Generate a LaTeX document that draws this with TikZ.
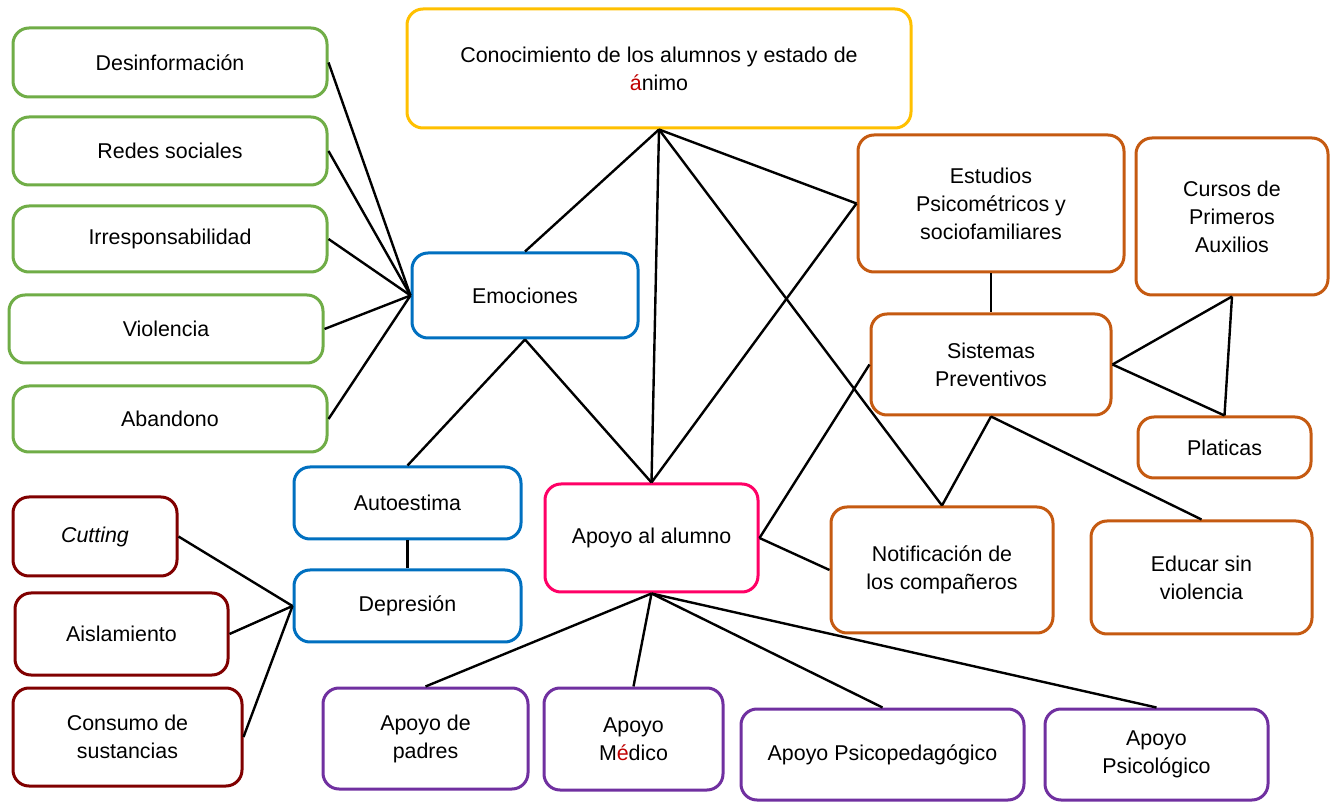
\documentclass[tikz,border=0pt]{standalone}
\usepackage{fontspec}
\setmainfont{Liberation Sans}
\definecolor{cYel}{HTML}{FFC000}
\definecolor{cGrn}{HTML}{70AD47}
\definecolor{cBlu}{HTML}{0070C0}
\definecolor{cDrd}{HTML}{800000}
\definecolor{cPnk}{HTML}{FF0066}
\definecolor{cOrg}{HTML}{C55A11}
\definecolor{cPur}{HTML}{7030A0}
\definecolor{cAcc}{HTML}{C00000}
\tikzset{
  box/.style={draw, line width=1.5pt, rounded corners=8pt, fill=white, align=center,
    font=\fontsize{10.7}{14}\selectfont, inner sep=2pt},
  link/.style={line width=1.2pt, black},
}
\begin{document}
\begin{tikzpicture}[x=0.5pt,y=-0.5pt]
\useasboundingbox (0,0) rectangle (1330,802);
% nodes
\node[box, draw=cYel, minimum width=252pt, minimum height=59.5pt] (con) at (659,68.5) {Conocimiento de los alumnos y estado de\\\textcolor{cAcc}{á}nimo};
\node[box, draw=cGrn, minimum width=157pt, minimum height=34.5pt] (des) at (170,62.5) {Desinformación};
\node[box, draw=cGrn, minimum width=157pt, minimum height=34pt] (red) at (170,151) {Redes sociales};
\node[box, draw=cGrn, minimum width=157pt, minimum height=33pt] (irr) at (170,239) {Irresponsabilidad};
\node[box, draw=cGrn, minimum width=157pt, minimum height=34pt] (vio) at (166,329) {Violencia};
\node[box, draw=cGrn, minimum width=157pt, minimum height=33pt] (aba) at (170,419) {Abandono};
\node[box, draw=cBlu, minimum width=113pt, minimum height=42.5pt] (emo) at (525,295.5) {Emociones};
\node[box, draw=cBlu, minimum width=113.5pt, minimum height=36pt] (aut) at (407.5,503) {Autoestima};
\node[box, draw=cBlu, minimum width=113.5pt, minimum height=36pt] (dep) at (407.5,606) {Depresión};
\node[box, draw=cDrd, minimum width=82pt, minimum height=39.5pt] (cut) at (95,536.5) {\textit{Cutting}};
\node[box, draw=cDrd, minimum width=106.5pt, minimum height=41pt] (ais) at (121.5,634) {Aislamiento};
\node[box, draw=cDrd, minimum width=114.5pt, minimum height=49pt] (cons) at (127.5,737) {Consumo de\\sustancias};
\node[box, draw=cPnk, minimum width=106.5pt, minimum height=54pt] (apo) at (651.5,538) {Apoyo al alumno};
\node[box, draw=cOrg, minimum width=133pt, minimum height=68.5pt] (est) at (991,203.5) {Estudios\\Psicométricos y\\sociofamiliares};
\node[box, draw=cOrg, minimum width=96pt, minimum height=78.5pt] (cur) at (1232,216.5) {Cursos de\\Primeros\\Auxilios};
\node[box, draw=cOrg, minimum width=120pt, minimum height=50.5pt] (sis) at (991,364.5) {Sistemas\\Preventivos};
\node[box, draw=cOrg, minimum width=86.5pt, minimum height=30.5pt] (pla) at (1224.5,447.5) {Platicas};
\node[box, draw=cOrg, minimum width=111pt, minimum height=63pt] (not) at (942,570) {Notificación de\\los compañeros};
\node[box, draw=cOrg, minimum width=110.5pt, minimum height=56.5pt] (edu) at (1201.5,577.5) {Educar sin\\violencia};
\node[box, draw=cPur, minimum width=102.5pt, minimum height=50.5pt] (pad) at (425.5,738.5) {Apoyo de\\padres};
\node[box, draw=cPur, minimum width=89.5pt, minimum height=51pt] (med) at (633.5,739) {Apoyo\\M\textcolor{cAcc}{é}dico};
\node[box, draw=cPur, minimum width=141.5pt, minimum height=45.5pt] (psp) at (882.5,754.5) {Apoyo Psicopedagógico};
\node[box, draw=cPur, minimum width=111.5pt, minimum height=45.5pt] (psl) at (1156.5,754.5) {Apoyo\\Psicológico};
% connectors
\draw[link] (des.east) -- (emo.west);
\draw[link] (red.east) -- (emo.west);
\draw[link] (irr.east) -- (emo.west);
\draw[link] (vio.east) -- (emo.west);
\draw[link] (aba.east) -- (emo.west);
\draw[link] (con.south) -- (emo.north);
\draw[link] (con.south) -- (apo.north);
\draw[link] (con.south) -- (est.west);
\draw[link] (con.south) -- (not.north);
\draw[link] (emo.south) -- (aut.north);
\draw[link] (emo.south) -- (apo.north);
\draw[link] (apo.north) -- (est.west);
\draw[link] (aut.south) -- (dep.north);
\draw[link] (dep.west) -- (cut.east);
\draw[link] (dep.west) -- (ais.east);
\draw[link] (dep.west) -- (cons.east);
\draw[link] (est.south) -- (sis.north);
\draw[link] (sis.east) -- (cur.south);
\draw[link] (sis.east) -- (pla.north);
\draw[link] (cur.south) -- (pla.north);
\draw[link] (sis.south) -- (not.north);
\draw[link] (sis.south) -- (edu.north);
\draw[link] (apo.east) -- (not.west);
\draw[link] (apo.east) -- (sis.west);
\draw[link] (apo.south) -- (pad.north);
\draw[link] (apo.south) -- (med.north);
\draw[link] (apo.south) -- (psp.north);
\draw[link] (apo.south) -- (psl.north);
\end{tikzpicture}
\end{document}
